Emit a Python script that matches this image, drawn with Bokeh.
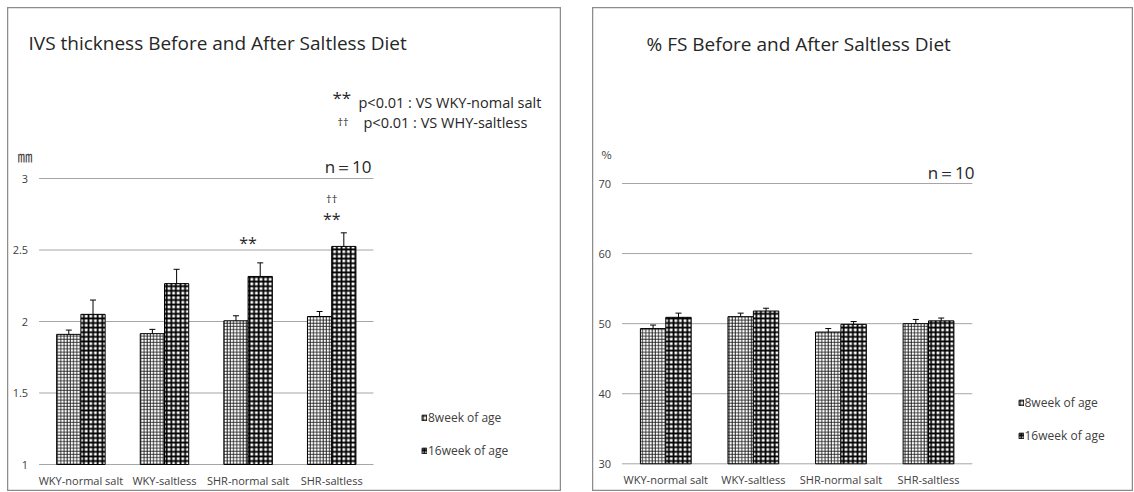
from bokeh.plotting import figure
from bokeh.models import (ColumnDataSource, Range1d, Whisker, TeeHead, Label,
                          Legend, LegendItem, Spacer)
from bokeh.transform import dodge
from bokeh.layouts import row, column
from bokeh.embed import file_html
from bokeh.resources import INLINE
from bokeh.core.properties import value

groups = ["WKY-normal salt", "WKY-saltless", "SHR-normal salt", "SHR-saltless"]
series = ["8week of age", "16week of age"]

ivs_8w = [1.91, 1.915, 2.005, 2.035]
ivs_8w_err = [0.03, 0.03, 0.035, 0.035]
ivs_16w = [2.05, 2.265, 2.315, 2.525]
ivs_16w_err = [0.10, 0.10, 0.095, 0.095]
ivs_ticks = [1, 1.5, 2, 2.5, 3]
ivs_tick_labels = ["1", "1.5", "2", "2.5", "3"]

fs_8w = [49.3, 51.0, 48.8, 50.0]
fs_8w_err = [0.5, 0.5, 0.5, 0.6]
fs_16w = [50.9, 51.8, 49.9, 50.4]
fs_16w_err = [0.6, 0.4, 0.4, 0.4]
fs_ticks = [30, 40, 50, 60, 70]
fs_tick_labels = ["30", "40", "50", "60", "70"]

sig_groups = ["SHR-normal salt", "SHR-saltless", "SHR-saltless"]
sig_text = ["**", "**", "††"]
sig_y = [2.55, 2.72, 2.86]
sig_size = ["16px", "16px", "11px"]

FONT = "Open Sans"
TXT = "#404040"
DARK = "#262626"
GRID = "#a6a6a6"
OFF = 0.145
BW = 0.29


def make_panel(geom, plot_px, v8, e8, v16, e16, ticks, tick_labels, title, unit,
               title_xy, unit_xy, n_xy, leg_xy):
    fl, ft, w, h = geom
    px0, px1, py_lo, py_hi = plot_px
    vlo, vhi = ticks[0], ticks[-1]
    n = len(groups)
    ux = (px1 - px0) / n
    uy = (py_lo - py_hi) / (vhi - vlo)
    xr = Range1d((fl - px0) / ux, (fl + w - px0) / ux)
    yr = Range1d(vlo - (ft + h - py_lo) / uy, vhi + (py_hi - ft) / uy)

    xc = [i + 0.5 for i in range(n)]
    src = ColumnDataSource(dict(
        xc=xc, g=groups, v8=v8, v16=v16,
        h8=[a + b for a, b in zip(v8, e8)], h16=[a + b for a, b in zip(v16, e16)]))
    p = figure(x_range=xr, y_range=yr, width=w, height=h,
               output_backend="svg", toolbar_location=None,
               x_axis_location=None, y_axis_location=None, min_border=0)
    p.xgrid.visible = False
    p.ygrid.visible = False
    p.outline_line_color = "#8c8c8c"
    p.outline_line_width = 1.5
    p.background_fill_color = "white"
    p.border_fill_color = "white"

    # gridlines at tick values across the category area
    p.segment(x0=[0] * len(ticks), x1=[n] * len(ticks), y0=ticks, y1=ticks,
              line_color=GRID, line_width=1)
    # tick labels
    p.text(x=[0] * len(ticks), y=ticks, text=tick_labels, x_offset=-11,
           text_align="right", text_baseline="middle", text_font=value(FONT),
           text_font_size="11px", text_color=TXT)
    # category labels
    p.text(x=xc, y=[vlo] * n, text=groups, y_offset=16, text_align="center",
           text_baseline="middle", text_font=value(FONT), text_font_size="11px",
           text_color=TXT)

    r8 = p.vbar(x=dodge("xc", -OFF), top="v8", bottom=vlo, width=BW, source=src,
                fill_color="white", line_color="black", line_width=1,
                hatch_pattern="cross", hatch_scale=3.2, hatch_weight=0.9, hatch_color="#1a1a1a")
    r16 = p.vbar(x=dodge("xc", OFF), top="v16", bottom=vlo, width=BW, source=src,
                 fill_color="white", line_color="black", line_width=1,
                 hatch_pattern="cross", hatch_scale=4.6, hatch_weight=1.8, hatch_color="black")
    for col, hi, off in (("v8", "h8", -OFF), ("v16", "h16", OFF)):
        wk = Whisker(source=src, base=dodge("xc", off), lower=col, upper=hi,
                     dimension="height", line_color="black", line_width=1,
                     upper_head=TeeHead(size=6, line_color="black", line_width=1),
                     lower_head=None, level="annotation")
        p.add_layout(wk)

    p.add_layout(Label(x=title_xy[0], y=title_xy[1], x_units="screen", y_units="screen",
                       text=title, text_font=FONT, text_font_size="19px", text_color=DARK,
                       text_baseline="middle"))
    p.add_layout(Label(x=unit_xy[0], y=unit_xy[1], x_units="screen", y_units="screen",
                       text=unit, text_font="Noto Sans CJK JP", text_font_size=unit_xy[2],
                       text_color=TXT, text_baseline="middle"))
    p.add_layout(Label(x=n_xy[0], y=n_xy[1], x_units="screen", y_units="screen",
                       text="n＝10", text_font=FONT, text_font_size="17px", text_color=DARK,
                       text_baseline="middle", text_align="right"))

    legend = Legend(items=[LegendItem(label=series[0], renderers=[r8]),
                           LegendItem(label=series[1], renderers=[r16])],
                    location=leg_xy, orientation="vertical", padding=0, margin=0,
                    border_line_color=None, background_fill_alpha=0,
                    glyph_width=6, glyph_height=7, label_standoff=1,
                    label_height=14, spacing=16,
                    label_text_font=FONT, label_text_font_size="12px", label_text_color=TXT)
    p.add_layout(legend, "center")
    return p, xc


p1, xc1 = make_panel((7, 7, 554, 484), (38.6, 373, 464, 178),
                     ivs_8w, ivs_8w_err, ivs_16w, ivs_16w_err, ivs_ticks, ivs_tick_labels,
                     "IVS thickness Before and After Saltless Diet", "㎜",
                     (21, 449), (10, 336, "15px"), (364, 325), (414, 32))
sig_x = [xc1[groups.index(g)] for g in sig_groups]
p1.text(x=sig_x, y=sig_y, text=sig_text, text_align="center", text_baseline="middle",
        text_font=value(FONT), text_font_size=sig_size, text_color=DARK)
p1.add_layout(Label(x=325, y=394, x_units="screen", y_units="screen", text="**",
                    text_font=FONT, text_font_size="17px", text_color=DARK,
                    text_baseline="middle"))
p1.add_layout(Label(x=351, y=389, x_units="screen", y_units="screen",
                    text="p<0.01 : VS WKY-nomal salt", text_font=FONT, text_font_size="14.5px",
                    text_color=DARK, text_baseline="middle"))
p1.add_layout(Label(x=330, y=370, x_units="screen", y_units="screen", text="††",
                    text_font=FONT, text_font_size="11px", text_color=DARK,
                    text_baseline="middle"))
p1.add_layout(Label(x=356, y=369, x_units="screen", y_units="screen",
                    text="p<0.01 : VS WHY-saltless", text_font=FONT, text_font_size="14.5px",
                    text_color=DARK, text_baseline="middle"))

p2, _ = make_panel((592, 7, 541, 484), (621.5, 971.8, 463.3, 183),
                   fs_8w, fs_8w_err, fs_16w, fs_16w_err, fs_ticks, fs_tick_labels,
                   "% FS Before and After Saltless Diet", "%",
                   (54, 448), (9, 338, "11px"), (382, 319), (425.5, 47))

layout = column(Spacer(height=7),
                row(Spacer(width=7), p1, Spacer(width=31), p2))
open("out.html", "w").write(file_html(layout, INLINE))
